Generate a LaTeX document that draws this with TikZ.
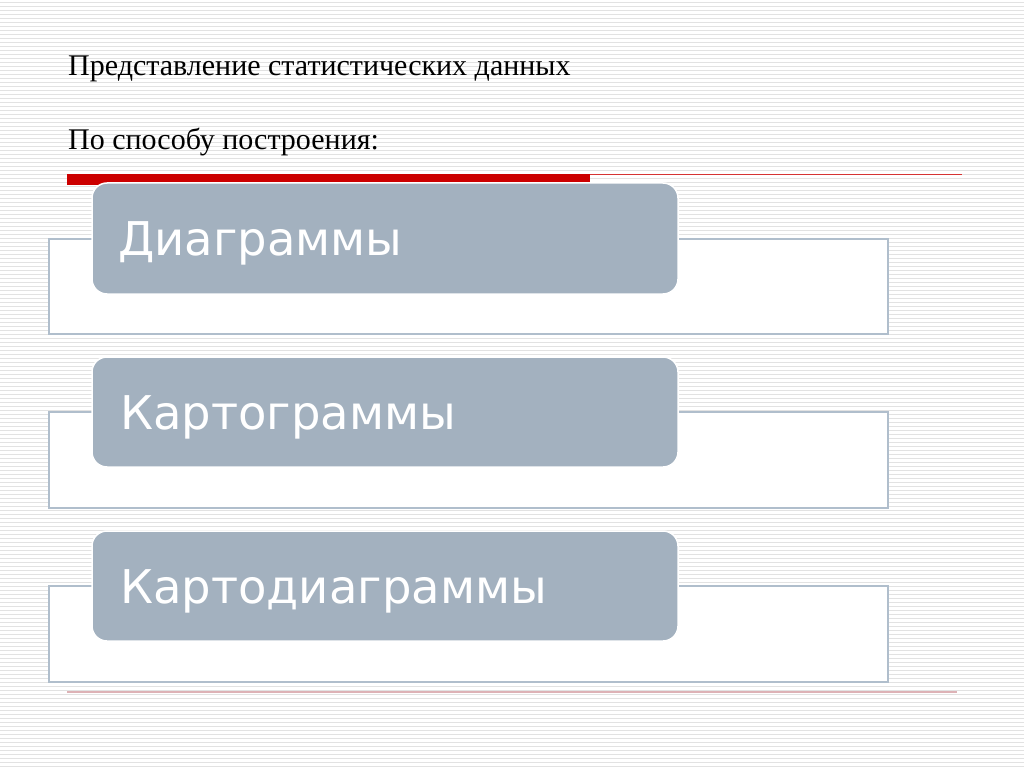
\documentclass[tikz,border=0pt]{standalone}
\usepackage{fontspec}
\setmainfont{Liberation Serif}
\newfontfamily\boxfont{DejaVu Sans}
\definecolor{stripe}{RGB}{226,226,226}
\definecolor{boxfill}{RGB}{163,177,191}
\definecolor{frameline}{RGB}{176,190,204}
\definecolor{redbar}{RGB}{204,0,0}
\definecolor{pinkline}{RGB}{221,178,182}
\tikzset{
  frame/.style={draw=frameline, line width=1.3pt, fill=white},
  pill/.style={draw=white, line width=1.5pt, fill=boxfill, rounded corners=15pt},
  pilltext/.style={text=white, anchor=base west, inner sep=0pt, font=\boxfont\fontsize{46.5}{52}\selectfont},
  title/.style={anchor=base west, inner sep=0pt, font=\fontsize{30}{34}\selectfont}
}
\begin{document}
\begin{tikzpicture}[x=1pt,y=-1pt]
\useasboundingbox (0,0) rectangle (1024,767);
\fill[white] (0,0) rectangle (1024,767);
\foreach \yy in {2,6,...,766} \fill[stripe] (0,\yy) rectangle (1024,\yy+1.4);
% titles
\node[title] (t1) at (68,76) {Представление статистических данных};
\node[title] (t2) at (68,150) {По способу построения:};
% red rule
\fill[redbar] (67,174) rectangle (590,185);
\draw[redbar!80!white, line width=1pt] (590,174.5) -- (962,174.5);
% white frames
\draw[frame] (49,239) rectangle (888,334);
\draw[frame] (49,412) rectangle (888,508);
\draw[frame] (49,586) rectangle (888,682);
% gray pills
\draw[pill] (92,183) rectangle (678,294);
\draw[pill] (92,357) rectangle (678,467);
\draw[pill] (92,531) rectangle (678,641);
\node[pilltext] (p1) at (118,255) {Диаграммы};
\node[pilltext] (p2) at (120,429) {Картограммы};
\node[pilltext] (p3) at (120,603) {Картодиаграммы};
% bottom rule
\draw[pinkline, line width=2pt] (67,692) -- (957,692);
\end{tikzpicture}
\end{document}
